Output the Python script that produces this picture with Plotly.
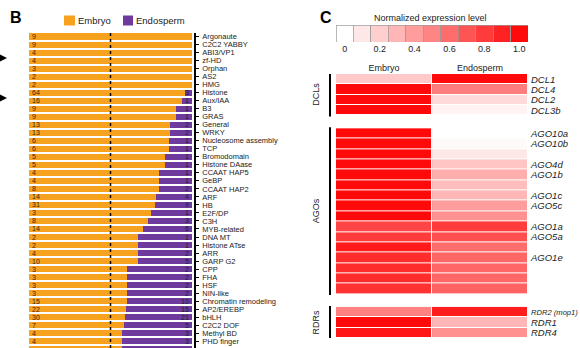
import plotly.graph_objects as go

W, H = 580, 348
FONT = "Arial, Liberation Sans, sans-serif"
ORANGE = "#F6A21E"
PURPLE = "#6E3A9E"
REDSCALE = [[0, "#FFFFFF"], [1, "#FF0A0A"]]

# ---------------- Panel B data ----------------
families = ["Argonaute", "C2C2 YABBY", "ABI3/VP1", "zf-HD", "Orphan", "AS2", "HMG",
            "Histone", "Aux/IAA", "B3", "GRAS", "General", "WRKY",
            "Nucleosome assembly", "TCP", "Bromodomain", "Histone DAase",
            "CCAAT HAP5", "GeBP", "CCAAT HAP2", "ARF", "HB", "E2F/DP", "C3H",
            "MYB-related", "DNA MT", "Histone ATse", "ARR", "GARP G2", "CPP",
            "FHA", "HSF", "NIN-like", "Chromatin remodeling", "AP2/EREBP",
            "bHLH", "C2C2 DOF", "Methyl BD", "PHD finger", "SWIB"]
embryo_counts = [9, 9, 4, 4, 3, 2, 2, 64, 16, 9, 9, 13, 13, 6, 6, 5, 5, 4, 4, 8,
                 14, 31, 3, 8, 14, 2, 2, 4, 10, 3, 3, 3, 3, 15, 22, 30, 7, 4, 4, 4]
endo_counts = [0, 0, 0, 0, 0, 0, 0, 3, 1, 1, 1, 2, 2, 1, 1, 1, 1, 1, 1, 2,
               4, 9, 1, 3, 6, 1, 1, 2, 5, 2, 2, 2, 2, 10, 15, 21, 5, 3, 3, 3]
# the last row is cut by the bottom edge in the reference: its numbers are not shown
shown_rows = len(families) - 1

# ---------------- Panel C data ----------------
levels = [0.0, 0.1, 0.2, 0.3, 0.4, 0.5, 0.6, 0.7, 0.8, 0.9, 1.0]
level_ticks = [0.0, 0.2, 0.4, 0.6, 0.8, 1.0]
level_ticktext = ["0", "0.2", "0.4", "0.6", "0.8", "1.0"]
tissues = ["Embryo", "Endosperm"]

dcl_genes = ["DCL1", "DCL4", "DCL2", "DCL3b"]
dcl_embryo = [0.22, 1.0, 1.0, 1.0]
dcl_endo = [1.0, 0.53, 0.15, 0.05]

ago_genes = ["AGO10a", "AGO10b", "", "AGO4d", "AGO1b", "", "AGO1c", "AGO5c", "",
             "AGO1a", "AGO5a", "", "AGO1e", "", "", ""]
ago_embryo = [1.0, 1.0, 1.0, 1.0, 1.0, 1.0, 1.0, 1.0, 1.0,
              0.76, 0.8, 0.93, 0.86, 0.86, 0.86, 0.84]
ago_endo = [0.0, 0.02, 0.1, 0.24, 0.33, 0.27, 0.3, 0.4, 0.45,
            0.8, 0.72, 0.6, 0.62, 0.62, 0.62, 0.64]

rdr_genes = ["RDR2 (mop1)", "RDR1", "RDR4"]
rdr_embryo = [0.52, 1.0, 0.95]
rdr_endo = [0.92, 0.3, 0.45]

groups = [("DCLs", dcl_genes, dcl_embryo, dcl_endo),
          ("AGOs", ago_genes, ago_embryo, ago_endo),
          ("RDRs", rdr_genes, rdr_embryo, rdr_endo)]
GROUP_GAP = 1.25


def px(x):
    return x / W


def py(y):
    return 1 - y / H


def gene_label(g):
    if not g:
        return ""
    if len(g) > 8:  # long label: slightly smaller so it fits the page edge
        return f'<span style="font-size:7.6px"><i>{g}</i></span>'
    return f"<i>{g}</i>"


fig = go.Figure()

# ---------------- Panel B ----------------
emb_text = [str(v) if i < shown_rows else "" for i, v in enumerate(embryo_counts)]
endo_text = [str(v) if (v and i < shown_rows) else "" for i, v in enumerate(endo_counts)]
fig.add_trace(go.Bar(
    y=families, x=embryo_counts, orientation="h", marker_color=ORANGE,
    marker_line_width=0, text=emb_text, constraintext="none",
    textposition="inside", insidetextanchor="start", textangle=0,
    textfont=dict(size=7, color="#3a2a10", family=FONT),
    xaxis="x", yaxis="y", hoverinfo="skip"))
fig.add_trace(go.Bar(
    y=families, x=endo_counts, orientation="h", marker_color=PURPLE,
    marker_line_width=0, text=endo_text, constraintext="none",
    textposition="inside", insidetextanchor="end", textangle=0,
    textfont=dict(size=7, color="#1e1e1e", family=FONT),
    xaxis="x", yaxis="y", hoverinfo="skip"))

# ---------------- Panel C colour key ----------------
fig.add_trace(go.Bar(
    x=levels, y=[1] * len(levels), width=0.1,
    marker=dict(color=levels, colorscale=REDSCALE, cmin=0, cmax=1,
                line=dict(color="#9a9a9a", width=0.7)),
    xaxis="x2", yaxis="y2", hoverinfo="skip"))

# ---------------- Panel C heatmaps ----------------
tickvals, ticktext = [], []
brackets = []
start = -0.5
for name, genes, emb, endo in groups:
    ys = [start + 0.5 + i for i in range(len(genes))]
    fig.add_trace(go.Heatmap(
        x=tissues, y=ys, z=[[e, n] for e, n in zip(emb, endo)],
        colorscale=REDSCALE, zmin=0, zmax=1, showscale=False,
        xgap=1, ygap=1, xaxis="x3", yaxis="y3", hoverinfo="skip"))
    for yv, g in zip(ys, genes):
        tickvals.append(yv)
        ticktext.append(gene_label(g))
    end = start + len(genes)
    brackets.append((name, start, end))
    start = end + GROUP_GAP
y3_bottom = brackets[-1][2]

shapes = []
annotations = []

# dashed 50% line
shapes.append(dict(type="line", xref="x", yref="paper", x0=0.5, x1=0.5,
                   y0=0, y1=py(33), line=dict(color="black", width=1.5, dash="3px,3px"),
                   layer="above"))

# legend for B
for (x0, x1, col, label) in [(64, 75, ORANGE, "Embryo"), (123, 133, PURPLE, "Endosperm")]:
    shapes.append(dict(type="rect", xref="paper", yref="paper", x0=px(x0), x1=px(x1),
                       y0=py(25.5), y1=py(15.5), fillcolor=col, line=dict(width=0)))
    annotations.append(dict(text=label, xref="paper", yref="paper", x=px(x1 + 1),
                            y=py(20.5), xanchor="left", yanchor="middle", showarrow=False,
                            font=dict(size=9.5, color="#222", family=FONT)))

# panel letters
for letter, x in [("B", 8), ("C", 318)]:
    annotations.append(dict(text=f"<b>{letter}</b>", xref="paper", yref="paper",
                            x=px(x), y=py(18), xanchor="left", yanchor="middle",
                            showarrow=False, font=dict(size=16, color="black", family=FONT)))

# arrows at the left edge
for yv in [58, 98]:
    annotations.append(dict(text="", xref="paper", yref="paper", x=px(7), y=py(yv),
                            ax=-12, ay=0, showarrow=True, arrowhead=2, arrowsize=1,
                            arrowwidth=1.5, arrowcolor="black"))

# colour key title
annotations.append(dict(text="Normalized expression level", xref="paper", yref="paper",
                        x=px(430), y=py(18), xanchor="center", yanchor="middle",
                        showarrow=False, font=dict(size=9, color="#222", family=FONT)))

# group brackets
for name, s, e in brackets:
    shapes.append(dict(type="line", xref="paper", yref="y3", x0=px(330), x1=px(330),
                       y0=s - 0.1, y1=e + 0.1, line=dict(color="black", width=2)))
    annotations.append(dict(text=name, xref="paper", yref="y3", x=px(316), y=(s + e) / 2,
                            xanchor="center", yanchor="middle", textangle=-90,
                            showarrow=False, font=dict(size=9, color="#222", family=FONT)))

ROW = 8.02
y_top_idx = (33 - 36.5) / ROW
y_bot_idx = (348 - 36.5) / ROW

fig.update_layout(
    width=W, height=H, margin=dict(l=0, r=0, t=0, b=0, autoexpand=False),
    paper_bgcolor="white", plot_bgcolor="white", showlegend=False,
    font=dict(family=FONT, color="#222"),
    barmode="stack", barnorm="fraction", bargap=0.25,
    xaxis=dict(domain=[px(29), px(192)], range=[0, 1], visible=False, anchor="y",
               automargin=False),
    yaxis=dict(domain=[0, py(33)], range=[y_bot_idx, y_top_idx], type="category",
               categoryorder="array", categoryarray=families,
               tickmode="array", tickvals=families, ticktext=families,
               side="right", anchor="free", position=px(195), automargin=False,
               showline=True, linecolor="black", linewidth=1.5,
               ticks="outside", ticklen=3, tickwidth=1, tickcolor="black",
               ticklabelstandoff=2,
               tickfont=dict(size=7.5, color="#222", family=FONT),
               showgrid=False, zeroline=False),
    xaxis2=dict(domain=[px(336), px(528)], range=[-0.05, 1.05], anchor="y2",
                automargin=False,
                tickvals=level_ticks, ticktext=level_ticktext, ticks="",
                showgrid=False, zeroline=False, showline=False,
                tickfont=dict(size=9, color="#222", family=FONT)),
    yaxis2=dict(domain=[py(42), py(25)], range=[0, 1], visible=False, anchor="x2",
                automargin=False),
    xaxis3=dict(domain=[px(336), px(528)], range=[-0.5, 1.5], anchor="y3", side="top",
                automargin=False,
                ticks="", showgrid=False, zeroline=False, showline=False,
                tickfont=dict(size=9, color="#222", family=FONT)),
    yaxis3=dict(domain=[py(338), py(74)], range=[y3_bottom, -0.5], anchor="x3",
                side="right", tickvals=tickvals, ticktext=ticktext, ticks="",
                automargin=False, ticklabelstandoff=2,
                showgrid=False, zeroline=False, showline=False,
                tickfont=dict(size=9.5, color="#222", family=FONT)),
    shapes=shapes, annotations=annotations,
)

fig.write_html("out.html")
